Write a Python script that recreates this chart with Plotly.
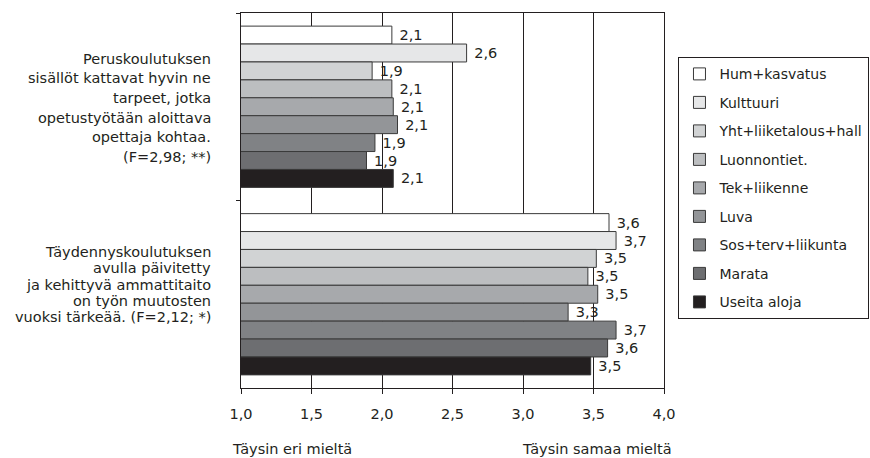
import plotly.graph_objects as go

categories = ["Peruskoulutus", "Täydennyskoulutus"]
series_names = ["Hum+kasvatus", "Kulttuuri", "Yht+liiketalous+hall", "Luonnontiet.",
                "Tek+liikenne", "Luva", "Sos+terv+liikunta", "Marata", "Useita aloja"]
values_perus = [2.07, 2.60, 1.93, 2.07, 2.08, 2.11, 1.95, 1.89, 2.08]
values_taydennys = [3.61, 3.66, 3.52, 3.46, 3.53, 3.32, 3.66, 3.60, 3.48]
colors = ["#ffffff", "#e6e7e8", "#d1d3d4", "#bcbec0", "#a7a9ac",
          "#939598", "#808285", "#6d6e71", "#231f20"]

label_perus = ["Peruskoulutuksen", "sisällöt kattavat hyvin ne", "tarpeet, jotka",
               "opetustyötään aloittava", "opettaja kohtaa.", "(F=2,98; **)"]
label_taydennys = ["Täydennyskoulutuksen", "avulla päivitetty", "ja kehittyvä ammattitaito",
                   "on työn muutosten", "vuoksi tärkeää. (F=2,12; *)"]

x_ticks = [1.0, 1.5, 2.0, 2.5, 3.0, 3.5, 4.0]
x_title_left = "Täysin eri mieltä"
x_title_right = "Täysin samaa mieltä"

FONT = "DejaVu Sans, Liberation Sans, Arial, sans-serif"
FS = 14.5
INK = "#231f20"

fig = go.Figure()
for i, name in enumerate(series_names):
    fig.add_trace(go.Bar(
        name=name,
        y=categories,
        x=[values_perus[i], values_taydennys[i]],
        orientation="h",
        marker=dict(color=colors[i], line=dict(color="#3a3a3a", width=1)),
        texttemplate="\u00a0%{x:.1f}",
        textposition="outside",
        textfont=dict(family=FONT, size=FS, color=INK),
        cliponaxis=False,
        legendgroup=f"g{i}",
        hoverinfo="skip",
    ))

W, H = 870, 458
ml, mr, mt, mb = 240.7, W - 664.5, 12.7, H - 387.7
plot_h = H - mt - mb
plot_w = W - ml - mr

def py(p):
    return (H - mb - p) / plot_h

def px(p):
    return (p - ml) / plot_w

annotations = []
top_first, top_step = 58.5, 19.6
for k, line in enumerate(label_perus):
    annotations.append(dict(text=line, xref="paper", yref="paper", x=px(213), y=py(top_first + k * top_step),
                            xanchor="right", yanchor="middle", showarrow=False,
                            font=dict(family=FONT, size=FS, color=INK)))
bot_first, bot_step = 251.7, 16.3
for k, line in enumerate(label_taydennys):
    annotations.append(dict(text=line, xref="paper", yref="paper", x=px(213), y=py(bot_first + k * bot_step),
                            xanchor="right", yanchor="middle", showarrow=False,
                            font=dict(family=FONT, size=FS, color=INK)))
annotations.append(dict(text=x_title_left, xref="paper", yref="paper", x=px(230), y=py(449),
                        xanchor="left", yanchor="middle", showarrow=False,
                        font=dict(family=FONT, size=FS, color=INK)))
annotations.append(dict(text=x_title_right, xref="paper", yref="paper", x=px(520), y=py(449),
                        xanchor="left", yanchor="middle", showarrow=False,
                        font=dict(family=FONT, size=FS, color=INK)))

fig.update_layout(
    width=W, height=H,
    margin=dict(l=ml, r=mr, t=mt, b=mb, pad=0, autoexpand=False),
    paper_bgcolor="white", plot_bgcolor="white",
    barmode="group", bargap=0.14, bargroupgap=0,
    separators=", ",
    font=dict(family=FONT, size=FS, color=INK),
    showlegend=True,
    legend=dict(
        x=px(679), y=py(57), xanchor="left", yanchor="top",
        bordercolor=INK, borderwidth=1, bgcolor="white",
        font=dict(family=FONT, size=14, color=INK),
        traceorder="grouped", tracegroupgap=7.3, itemwidth=30,
    ),
    annotations=annotations,
)
fig.update_xaxes(
    range=[1, 4], tickvals=x_ticks, tickformat=".1f",
    showgrid=True, gridcolor=INK, gridwidth=1,
    showline=True, linecolor=INK, linewidth=1, mirror=True,
    ticks="outside", ticklen=5, tickcolor=INK, ticklabelstandoff=8,
    zeroline=False, tickfont=dict(family=FONT, size=FS, color=INK),
    fixedrange=True,
)
fig.update_yaxes(
    autorange="reversed", showticklabels=False,
    showline=True, linecolor=INK, linewidth=1, mirror=True,
    ticks="outside", ticklen=4, tickcolor=INK, tickson="boundaries",
    showgrid=False, zeroline=False, fixedrange=True,
)

fig.write_html("out.html", config={"displayModeBar": False},
               post_script="document.body.style.margin='0';")
